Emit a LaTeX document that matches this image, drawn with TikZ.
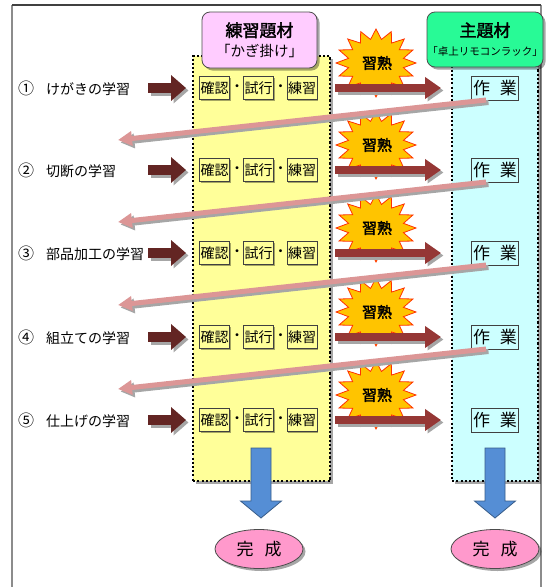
\documentclass[tikz,border=0pt]{standalone}
\usepackage{fontspec}
\setmainfont{Noto Sans CJK JP}
\newfontfamily\jpb[FakeBold=2]{Noto Sans CJK JP}
\usetikzlibrary{shapes.geometric,shadows,arrows.meta}
\definecolor{yellowbg}{RGB}{255,255,153}
\definecolor{cyanbg}{RGB}{204,255,255}
\definecolor{pinkhd}{RGB}{255,204,255}
\definecolor{greenhd}{RGB}{40,250,150}
\definecolor{starfill}{RGB}{255,196,0}
\definecolor{starline}{RGB}{255,50,0}
\definecolor{larrcol}{RGB}{99,37,35}
\definecolor{rarrcol}{RGB}{149,55,53}
\definecolor{retcol}{RGB}{220,150,150}
\definecolor{bluefill}{RGB}{85,142,213}
\definecolor{blueline}{RGB}{56,93,138}
\definecolor{pinkel}{RGB}{255,153,204}
\tikzset{
  shad/.style={drop shadow={shadow xshift=2.5pt,shadow yshift=-2.5pt,fill=black,opacity=.35}},
  smallshad/.style={drop shadow={shadow xshift=1.2pt,shadow yshift=-1.2pt,fill=black,opacity=.35}},
  panel/.style={draw=black,line width=2.3pt,dash pattern=on 2.1pt off 2.1pt,shad,inner sep=0pt,anchor=north west},
  hdr/.style={draw=black!70,line width=0.8pt,rounded corners=8pt,align=center,inner sep=0pt,shad},
  wordbox/.style={draw=black!75,line width=0.7pt,fill=yellowbg,minimum width=30pt,minimum height=23pt,inner sep=0pt,smallshad,font=\fontsize{14}{14}\selectfont},
  workbox/.style={draw=black!75,line width=0.7pt,fill=cyanbg,minimum width=47pt,minimum height=24pt,inner sep=0pt,font=\fontsize{17}{17}\selectfont},
  starst/.style={draw=starline,line width=0.8pt,fill=starfill},
  startext/.style={font=\jpb\fontsize{15}{15}\selectfont,inner sep=0pt},
  lab/.style={anchor=west,inner sep=0pt,font=\fontsize{14}{14}\selectfont},
  larr/.style={draw=larrcol,line width=10pt,-{Triangle[width=25pt,length=15pt]}},
  rarr/.style={draw=rarrcol,line width=8pt,-{Triangle[width=21pt,length=16pt]}},
  retarr/.style={draw=retcol,line width=5pt,-{Triangle[width=14pt,length=14pt]}},
  arrsh/.style={draw=black!35,transform canvas={xshift=2.5pt,yshift=-2.5pt}},
  bluearr/.style={fill=bluefill,draw=blueline,line width=0.8pt},
  doneell/.style={ellipse,draw=black!70,line width=0.8pt,fill=pinkel,minimum width=88pt,minimum height=39pt,inner sep=0pt,shad,font=\fontsize{17}{17}\selectfont}
}
\begin{document}
\begin{tikzpicture}[x=1pt,y=-1pt]
\useasboundingbox (0,0) rectangle (546,587);
\fill[white] (0,0) rectangle (546,587);
% frame
\coordinate (f1) at (12,5);
\coordinate (f2) at (540.5,5);
\coordinate (f3) at (12,587);
\coordinate (f4) at (540.5,587);
\draw[black!45,line width=2.4pt] (f1) -- (f3);
\draw[black!45,line width=2pt] (f2) -- (f4);
\draw[black!75,line width=1.6pt] (f1) -- (f2);
% panels
\node[panel,fill=yellowbg,minimum width=137pt,minimum height=425pt] (prac) at (192,55) {};
\node[panel,fill=cyanbg,minimum width=86pt,minimum height=420pt] (main) at (451,60) {};
% headers
\node[hdr,fill=pinkhd,minimum width=115pt,minimum height=56pt] (hp) at (259.5,40)
  {{\jpb\fontsize{17}{17}\selectfont 練習題材}\\[5pt]{\fontsize{14.5}{14.5}\selectfont 「かぎ掛け」}};
\node[hdr,fill=greenhd,minimum width=116pt,minimum height=55pt] (hg) at (485,39.5)
  {{\jpb\fontsize{17}{17}\selectfont 主題材}\\[7pt]{\fontsize{10.5}{10.5}\selectfont 「卓上リモコンラック」}};
% stars
\foreach \y/\n in {88/1,170/2,253/3,337/4,420/5}{
  \draw[starst] plot[domain=0:31,samples=32,variable=\k]
    ({376+(40-12*mod(\k,2))*cos(90+\k*11.25)},{\y-25-(34-10*mod(\k,2))*sin(90+\k*11.25)}) -- cycle;
  \node[startext] (st\n) at (377,\y-25) {習熟};
}
% rows
\foreach \y/\c/\t/\n in {88/①/けがきの学習/1,170/②/切断の学習/2,253/③/部品加工の学習/3,337/④/組立ての学習/4,420/⑤/仕上げの学習/5}{
  \node[lab] (lb\n) at (18,\y) {{\fontsize{16}{16}\selectfont\c}\hspace{12pt}\t};
  \node[wordbox] (ka\n) at (214.5,\y) {確認};
  \node[font=\fontsize{14}{14}\selectfont,inner sep=0pt] (da\n) at (237,\y) {・};
  \node[wordbox] (kb\n) at (258.5,\y) {試行};
  \node[font=\fontsize{14}{14}\selectfont,inner sep=0pt] (db\n) at (280.5,\y) {・};
  \node[wordbox] (kc\n) at (302,\y) {練習};
  \node[workbox] (wk\n) at (495,\y) {作\hspace{10pt}業};
  \coordinate (ls\n) at (148,\y);
  \coordinate (le\n) at (186,\y);
  \coordinate (rs\n) at (335,\y);
  \coordinate (re\n) at (441,\y);
  \draw[larr,arrsh] (ls\n) -- (le\n);
  \draw[larr] (ls\n) -- (le\n);
  \draw[rarr,arrsh] (rs\n) -- (re\n);
  \draw[rarr] (rs\n) -- (re\n);
}
% return arrows
\foreach \y/\n in {88/1,170/2,253/3,337/4}{
  \coordinate (bs\n) at (486,\y+12);
  \coordinate (be\n) at (118,\y+52);
  \draw[retarr,arrsh] (bs\n) -- (be\n);
  \draw[retarr] (bs\n) -- (be\n);
}
% blue arrows
\coordinate (ba1) at (261,448);
\coordinate (ba2) at (495,448);
\foreach \b in {ba1,ba2}{
  \draw[bluearr] (\b) ++(-10,0) -- ++(20,0) -- ++(0,53) -- ++(10.5,0) -- ++(-20.5,17) -- ++(-20.5,-17) -- ++(10.5,0) -- cycle;
}
% completion
\node[doneell] (d1) at (259,549) {完\hspace{11pt}成};
\node[doneell] (d2) at (495,549) {完\hspace{11pt}成};
\end{tikzpicture}
\end{document}
